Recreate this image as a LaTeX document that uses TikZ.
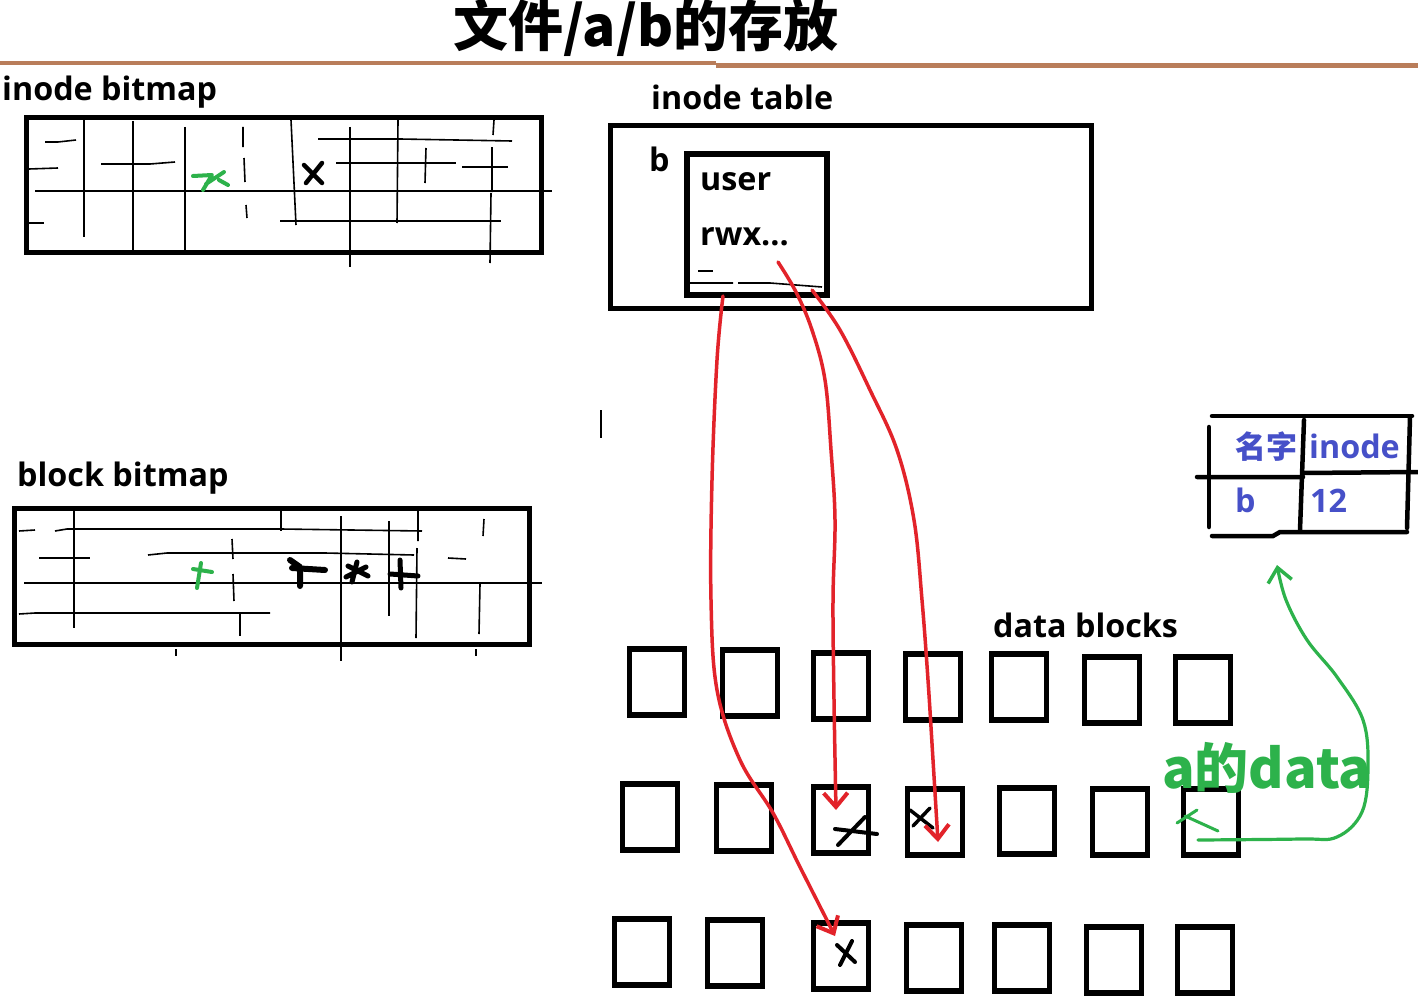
\documentclass[tikz,border=0pt]{standalone}
\usepackage{fontspec}
\setmainfont{Open Sans}
\newfontfamily\cjk{Noto Sans CJK SC}
\usetikzlibrary{arrows.meta}
\definecolor{brownline}{RGB}{185,125,90}
\definecolor{myred}{RGB}{226,35,42}
\definecolor{mygreen}{RGB}{45,178,75}
\definecolor{myblue}{RGB}{70,80,200}
\tikzset{
  bx/.style={draw, line width=5pt, inner sep=0pt},
  dbox/.style={bx, line width=5.5pt, minimum width=55pt, minimum height=66pt},
  gl/.style={line width=1.6pt},
  lbl/.style={font=\fontsize{32.3}{38}\selectfont\bfseries, inner sep=0pt, anchor=base west},
  cjklbl/.style={font=\cjk\fontsize{31}{36}\selectfont\bfseries, inner sep=0pt},
  scrib/.style={line width=4pt, line cap=round, line join=round},
  redarrow/.style={draw=myred, line width=3.5pt, line cap=round, -{Straight Barb[length=14pt,width=24pt,line width=4pt]}},
  greenarrow/.style={draw=mygreen, line width=3.2pt, line cap=round, -{Straight Barb[length=14pt,width=24pt,line width=3.5pt]}},
  dirline/.style={line width=4.5pt, line cap=round}
}
\begin{document}
\begin{tikzpicture}[x=1pt,y=-1pt]
\useasboundingbox[fill=white] (0,0) rectangle (1418,1006);

% title
\node[font=\cjk\fontsize{55}{60}\selectfont\bfseries, inner sep=0pt] (title) at (646,28) {文件/a/b的存放};
\draw[brownline, line width=4pt] (0,63) -- (716,63);
\draw[brownline, line width=5pt] (716,65.5) -- (1418,65.5);

% inode bitmap
\node[lbl] (ibml) at (2,101) {inode bitmap};
\node[bx, minimum width=515pt, minimum height=135pt] (ibm) at (284,185) {};
\draw[gl] (35,191)--(552,191);
\draw[gl] (84,120)--(84,237);
\draw[gl] (133,121)--(133,250);
\draw[gl] (185,127)--(185,252);
\draw[gl] (243,127)--(243,147) (244,158)--(245,182) (246,205)--(247,218);
\draw[gl] (291,120)--(296,225);
\draw[gl] (350,127)--(350,267);
\draw[gl] (398,120)--(397,223);
\draw[gl] (426,148)--(425,183);
\draw[gl] (494,120)--(493,135) (492,147)--(492,192) (491,193)--(490,263);
\draw[gl] (318,139)--(400,139)--(512,141);
\draw[gl] (336,163)--(456,163) (462,167)--(508,167);
\draw[gl] (280,221)--(501,221);
\draw[gl] (45,142)--(58,142)--(76,140);
\draw[gl] (101,164)--(150,164)--(175,162);
\draw[gl] (29,169)--(58,168);
\draw[gl] (29,223)--(44,223);
\draw[scrib, mygreen] (193,176)--(212,175)--(203,190) (206,184)--(224,172) (219,180)--(228,185);
\draw[scrib, line width=4.5pt] (304,165)--(322,183) (322,163)--(306,183);

% block bitmap
\node[lbl] (bbml) at (17,486) {block bitmap};
\node[bx, minimum width=515pt, minimum height=136pt] (bbm) at (272,576.5) {};
\draw[gl] (24,583)--(542,583);
\draw[gl] (67,529)--(281,529)--(422,531);
\draw[gl] (19,531)--(35,530) (55,531)--(67,529);
\draw[gl] (148,555)--(167,553)--(325,553)--(414,555);
\draw[gl] (39,558)--(90,558);
\draw[gl] (19,614)--(35,613)--(270,613);
\draw[gl] (448,558)--(466,559);
\draw[gl] (74,511)--(74,628);
\draw[gl] (232,539)--(233,559) (233,574)--(234,601);
\draw[gl] (240,613)--(240,636);
\draw[gl] (281,511)--(281,531);
\draw[gl] (341,516)--(341,661);
\draw[gl] (389,521)--(389,616);
\draw[gl] (418,511)--(418,541) (417,548)--(416,638);
\draw[gl] (484,519)--(483,536);
\draw[gl] (480,584)--(479,634);
\draw[gl] (176,649)--(176,656) (476,649)--(476,656);
\draw[scrib, mygreen] (193,569)--(212,572) (201,563)--(197,588);
\draw[scrib, line width=6pt] (290,560)--(300,567)--(300,586) (292,568)--(325,570);
\draw[scrib, line width=5pt] (348,566)--(368,576) (357,562)--(352,582) (346,577)--(366,567);
\draw[scrib, line width=5pt] (400,560)--(401,588) (390,574)--(418,576);

% inode table
\node[lbl] (itl) at (651,110) {inode table};
\node[bx, minimum width=481pt, minimum height=183pt] (it) at (851,217) {};
\node[lbl] (itb) at (649,171) {b};
\node[bx, line width=6pt, minimum width=140pt, minimum height=141pt] (ino) at (757,224.5) {};
\node[lbl] (user) at (700,190) {user};
\node[lbl] (rwx) at (700,245) {rwx...};
\draw[gl] (698,271)--(713,271);
\draw[gl] (690,283)--(733,283) (738,283)--(770,283)--(822,287);

% stray tick
\draw[gl] (601,410)--(601,438);

% data blocks
\node[lbl] (dbl) at (993,637) {data blocks};
\node[dbox] (a1) at (657,682) {};
\node[dbox] (a2) at (750,683) {};
\node[dbox] (a3) at (841,686) {};
\node[dbox] (a4) at (933,687) {};
\node[dbox] (a5) at (1019,687) {};
\node[dbox] (a6) at (1112,690) {};
\node[dbox] (a7) at (1203,690) {};
\node[dbox] (b1) at (650,817) {};
\node[dbox] (b2) at (744,818) {};
\node[dbox] (b3) at (841,820) {};
\node[dbox] (b4) at (935,822) {};
\node[dbox] (b5) at (1027,821) {};
\node[dbox] (b6) at (1120,822) {};
\node[dbox] (b7) at (1211,822) {};
\node[dbox] (c1) at (642,952) {};
\node[dbox] (c2) at (735,953) {};
\node[dbox] (c3) at (841,956) {};
\node[dbox] (c4) at (934,958) {};
\node[dbox] (c5) at (1022,958) {};
\node[dbox] (c6) at (1114,960) {};
\node[dbox] (c7) at (1205,960) {};

% marks in data blocks
\draw[scrib] (835,829)--(877,834) (865,817)--(838,845);
\draw[scrib, line width=3.5pt] (910,810)--(933,828) (930,808)--(913,826);
\draw[scrib] (837,945)--(855,962) (852,941)--(840,965);
\draw[scrib, mygreen, line width=3pt] (1197,810)--(1177,823) (1185,816)--(1218,831);

% red pointers
\coordinate (r1s) at (723,296);
\coordinate (r2s) at (778,262);
\coordinate (r3s) at (812,290);
\coordinate (r1e) at (835,936);
\coordinate (r2e) at (836,810);
\coordinate (r3e) at (938,842);
\draw[redarrow] plot[smooth, tension=0.6] coordinates {(r1s) (717,360) (712,480) (711,600) (717,690) (740,760) (773,813) (800,867) (r1e)};
\draw[redarrow] plot[smooth, tension=0.6] coordinates {(r2s) (796,292) (812,330) (825,380) (831,450) (835,520) (833,600) (834,700) (r2e)};
\draw[redarrow] plot[smooth, tension=0.6] coordinates {(r3s) (840,330) (870,390) (897,450) (914,520) (922,600) (928,680) (933,760) (r3e)};

% directory table
\draw[dirline] (1212,416)--(1412,416);
\draw[dirline] (1209,427)--(1209,527);
\draw[dirline] (1304,420)--(1300,530);
\draw[dirline] (1410,417)--(1407,528);
\draw[dirline] (1197,477)--(1303,477) (1303,473)--(1418,472);
\draw[dirline] (1212,536)--(1273,536)--(1280,532)--(1407,532);
\node[cjklbl, text=myblue] (dname) at (1266,447) {名字};
\node[lbl, text=myblue] (dino) at (1309,458) {inode};
\node[lbl, text=myblue] (db) at (1235,512) {b};
\node[lbl, text=myblue] (d12) at (1310,512) {12};

% a's data
\node[font=\cjk\fontsize{54}{60}\selectfont\bfseries, text=mygreen, inner sep=0pt, anchor=base west] (adata) at (1162,788) {a的data};
\coordinate (gs) at (1198,840);
\coordinate (ge) at (1277,565);
\draw[greenarrow] plot[smooth, tension=0.6] coordinates {(gs) (1300,839) (1337,837) (1362,812) (1368,767) (1363,720) (1337,677) (1307,640) (1286,600) (ge)};
\end{tikzpicture}
\end{document}
